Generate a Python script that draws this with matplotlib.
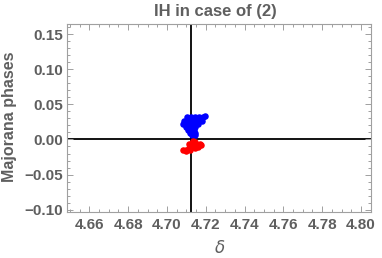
import matplotlib
matplotlib.use("Agg")
import matplotlib.pyplot as plt
from matplotlib.ticker import MultipleLocator, FuncFormatter

# (delta, phase) points of the two clusters
blue_delta = [4.7104, 4.7124, 4.7145, 4.7165, 4.7186, 4.7196,
              4.7088, 4.7104, 4.7124, 4.7145, 4.7165, 4.7180,
              4.7083, 4.7099, 4.7114, 4.7130, 4.7145, 4.7160,
              4.7099, 4.7114, 4.7130, 4.7145,
              4.7109, 4.7124, 4.7140,
              4.7119, 4.7135, 4.7145,
              4.7130, 4.7142]
blue_phase = [0.0314, 0.0314, 0.0314, 0.0314, 0.0314, 0.0328,
              0.0257, 0.0257, 0.0257, 0.0257, 0.0257, 0.0262,
              0.0214, 0.0214, 0.0214, 0.0214, 0.0214, 0.0214,
              0.0171, 0.0171, 0.0171, 0.0171,
              0.0128, 0.0128, 0.0128,
              0.0086, 0.0086, 0.0086,
              0.0057, 0.0057]

red_delta = [4.7083, 4.7099, 4.7114, 4.7130, 4.7145, 4.7160, 4.7171,
             4.7114, 4.7130, 4.7145, 4.7135,
             4.7099, 4.7119, 4.7145, 4.7160, 4.7176]
red_phase = [-0.0157, -0.0143, -0.0128, -0.0114, -0.0100, -0.0086, -0.0071,
             -0.0071, -0.0057, -0.0043, -0.0029,
             -0.0171, -0.0157, -0.0128, -0.0108, -0.0078]

delta0 = 4.71239  # 3*pi/2, where the axes cross
gray = "#5f5f5f"

plt.rcParams["font.family"] = ["Liberation Sans", "DejaVu Sans"]
plt.rcParams["font.weight"] = "bold"

fig = plt.figure(figsize=(3.82, 2.58), dpi=100)
ax = fig.add_axes([0.1746, 0.1783, 0.9704 - 0.1746, 0.9058 - 0.1783])

ax.axvline(delta0, color="black", lw=1.3, zorder=1)
ax.axhline(0, color="black", lw=1.3, zorder=1)
ax.scatter(blue_delta, blue_phase, s=22, color="#0000ff", linewidths=0, zorder=2)
ax.scatter(red_delta, red_phase, s=22, color="#ff0000", linewidths=0, zorder=2)

ax.set_xlim(4.6483, 4.805)
ax.set_ylim(-0.1033, 0.164)
ax.xaxis.set_major_locator(MultipleLocator(0.02))
ax.xaxis.set_minor_locator(MultipleLocator(0.005))
ax.yaxis.set_major_locator(MultipleLocator(0.05))
ax.yaxis.set_minor_locator(MultipleLocator(0.01))
fmt = FuncFormatter(lambda v, p: ("%.2f" % v).replace("-", "\u2212"))
ax.xaxis.set_major_formatter(fmt)
ax.yaxis.set_major_formatter(fmt)

for sp in ax.spines.values():
    sp.set_color("#a0a0a0")
    sp.set_linewidth(0.8)
ax.tick_params(which="both", direction="in", top=True, right=True,
               color="#a0a0a0", width=0.7)
ax.tick_params(which="major", length=4, labelsize=11, labelcolor=gray)
ax.tick_params(axis="y", which="major", pad=2.5)
ax.tick_params(axis="x", which="major", pad=4)
ax.tick_params(which="minor", length=2)

fig.text(0.563, 0.955, "IH in case of (2)", ha="center", va="center",
         fontsize=12, fontweight="bold", color=gray)
fig.text(0.026, 0.548, "Majorana phases", ha="center", va="center", rotation=90,
         fontsize=11.5, fontweight="bold", color=gray)
fig.text(0.576, 0.039, "\u03b4", ha="center", va="center",
         fontsize=12, style="italic", fontweight="normal", color=gray,
         family="DejaVu Sans")

fig.savefig("out.png", dpi=100)
